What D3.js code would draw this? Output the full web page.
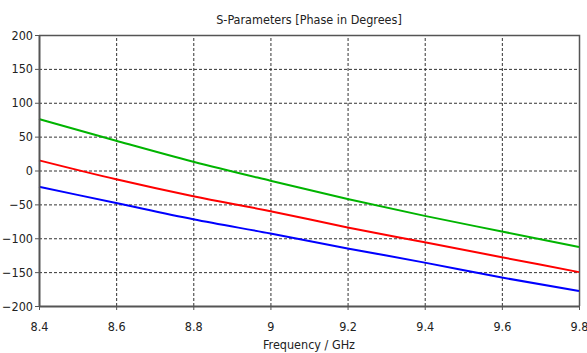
<!DOCTYPE html>
<html>
<head>
<meta charset="utf-8">
<script src="https://cdn.jsdelivr.net/npm/d3@7"></script>
<style>
  body { margin: 0; background: #fff; }
  svg text { font-family: Tahoma, "DejaVu Sans Condensed", "DejaVu Sans", sans-serif; fill: #222; }
  .grid line { stroke: #333; stroke-dasharray: 3,2; stroke-width: 1; }
  .grid path { display: none; }
</style>
</head>
<body>
<div id="chart"></div>
<script>
// S-parameter phase curves (degrees) vs frequency (GHz)
const freqs = [8.4, 8.6, 8.8, 9.0, 9.2, 9.4, 9.6, 9.8];
const greenPhase = [76, 44, 13, -15, -42, -67, -90, -113];
const redPhase = [15, -13, -38, -60, -84, -106, -128, -150];
const bluePhase = [-24, -48, -72, -93, -115, -136, -158, -178];
const xTicks = [8.4, 8.6, 8.8, 9, 9.2, 9.4, 9.6, 9.8];
const yTicks = [-200, -150, -100, -50, 0, 50, 100, 150, 200];

const series = [
    { values: greenPhase, color: "#00b400" },
    { values: redPhase, color: "#ff0000" },
    { values: bluePhase, color: "#0000ff" }
];

const width = 587, height = 353;
const margin = { top: 35, right: 8, bottom: 47, left: 39 };
const chartWidth = width - margin.left - margin.right;
const chartHeight = height - margin.top - margin.bottom;

const svg = d3.select("#chart").append("svg")
    .attr("width", width)
    .attr("height", height);

const g = svg.append("g")
    .attr("transform", `translate(${margin.left},${margin.top})`);

const x = d3.scaleLinear().domain([8.4, 9.8]).range([0, chartWidth]);
const y = d3.scaleLinear().domain([-200, 200]).range([chartHeight, 0]);

// dashed grid
g.append("g")
    .attr("class", "grid")
    .attr("transform", `translate(0,${chartHeight})`)
    .call(d3.axisBottom(x).tickValues(xTicks.slice(1, -1)).tickSize(-chartHeight).tickFormat(""));

g.append("g")
    .attr("class", "grid")
    .call(d3.axisLeft(y).tickValues(yTicks.slice(1, -1)).tickSize(-chartWidth).tickFormat(""));

// frame (top/right)
g.append("path")
    .attr("d", `M0,0.5H${chartWidth + 0.5}V${chartHeight}`)
    .attr("fill", "none")
    .attr("stroke", "#555")
    .attr("stroke-width", 1.5);

// curves
const line = d3.line()
    .x((d, i) => x(freqs[i]))
    .y(d => y(d))
    .curve(d3.curveMonotoneX);

series.forEach(s => {
    g.append("path")
        .datum(s.values)
        .attr("fill", "none")
        .attr("stroke", s.color)
        .attr("stroke-width", 2)
        .attr("d", line);
});

// axes
const xAxis = g.append("g")
    .attr("transform", `translate(0,${chartHeight})`)
    .call(d3.axisBottom(x).tickValues(xTicks).tickSize(4).tickSizeOuter(0)
        .tickFormat(d => d3.format("")(+d.toFixed(1))));

const yAxis = g.append("g")
    .call(d3.axisLeft(y).tickValues(yTicks).tickSize(4).tickSizeOuter(0));

[xAxis, yAxis].forEach(ax => {
    ax.select(".domain").attr("stroke", "#555").attr("stroke-width", 2);
    ax.selectAll(".tick line").attr("stroke", "#555");
    ax.selectAll("text").attr("font-size", 12.5).attr("fill", "#222");
});
xAxis.selectAll("text").attr("dy", "1.45em");
yAxis.selectAll("text").attr("x", -6);

// title and axis label
svg.append("text")
    .attr("x", 309)
    .attr("y", 24)
    .attr("text-anchor", "middle")
    .attr("font-size", 12.5)
    .text("S-Parameters [Phase in Degrees]");

svg.append("text")
    .attr("x", 309)
    .attr("y", 349)
    .attr("text-anchor", "middle")
    .attr("font-size", 12.5)
    .text("Frequency / GHz");
</script>
</body>
</html>
